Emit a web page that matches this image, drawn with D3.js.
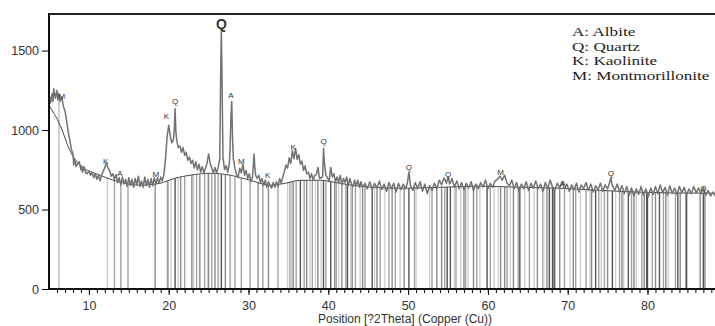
<!DOCTYPE html>
<html>
<head>
<meta charset="utf-8">
<title>XRD pattern</title>
<script src="https://d3js.org/d3.v7.min.js"></script>
<style>
  body { margin: 0; background: #fff; }
  svg { display: block; font-family: "Liberation Sans", Arial, sans-serif; }
  .tick text { fill: #333; }
</style>
</head>
<body>
<div id="chart"></div>
<script>
// measured profile: [2theta, counts]
const profile = [
  [5.0,1150],[5.1,1210],[5.2,1170],[5.4,1230],[5.5,1180],[5.6,1260],[5.8,1200],[6.0,1250],[6.1,1190],[6.2,1230],[6.4,1180],[6.6,1210],[6.8,1150],
  [7.0,1120],[7.2,1060],[7.4,990],[7.6,940],[7.8,880],[8.0,850],[8.1,780],[8.2,820],[8.4,770],[8.6,790],[8.8,800],
  [9.0,750],[9.1,775],[9.2,735],[9.4,770],[9.6,730],[9.8,725],[10.0,745],[10.2,715],[10.4,735],[10.6,700],[10.8,725],
  [11.0,690],[11.2,715],[11.4,680],[11.6,720],[11.8,740],[12.0,765],[12.2,795],[12.4,760],[12.6,745],[12.8,710],
  [13.0,725],[13.2,690],[13.4,720],[13.6,670],[13.8,700],[14.0,655],[14.2,705],[14.4,660],[14.6,690],[14.8,645],
  [15.0,700],[15.2,650],[15.4,690],[15.6,640],[15.8,695],[16.0,655],[16.2,710],[16.4,645],[16.6,680],[16.8,640],
  [17.0,705],[17.2,650],[17.4,690],[17.6,640],[17.8,695],[18.0,650],[18.2,700],[18.4,660],[18.6,700],[18.8,665],
  [19.0,705],[19.2,680],[19.4,720],[19.6,820],[19.8,960],[20.0,1030],[20.2,960],[20.4,920],[20.6,940],[20.7,1000],
  [20.8,1135],[20.9,990],[21.0,940],[21.2,890],[21.4,900],[21.6,860],[21.8,890],[22.0,840],[22.2,860],[22.4,810],
  [22.6,830],[22.8,790],[23.0,810],[23.2,760],[23.4,800],[23.6,750],[23.8,785],[24.0,735],[24.2,770],[24.4,730],
  [24.6,760],[24.8,790],[25.0,850],[25.2,790],[25.4,760],[25.6,730],[25.8,765],[26.0,730],[26.2,765],[26.4,820],
  [26.5,1300],[26.6,1640],[26.7,1250],[26.8,830],[27.0,750],[27.2,775],[27.4,735],[27.6,790],[27.7,900],[27.8,1080],
  [27.9,1180],[28.0,950],[28.1,820],[28.3,760],[28.5,720],[28.7,700],[28.9,760],[29.1,730],[29.3,785],[29.5,715],
  [29.7,745],[29.9,695],[30.1,725],[30.3,675],[30.5,705],[30.6,780],[30.7,850],[30.8,760],[30.9,715],[31.1,695],
  [31.3,715],[31.5,670],[31.7,695],[31.9,650],[32.1,685],[32.3,640],[32.5,675],[32.7,650],[32.9,635],[33.1,670],
  [33.3,640],[33.5,675],[33.7,645],[33.9,695],[34.1,665],[34.3,705],[34.5,740],[34.7,780],[34.9,760],[35.1,825],
  [35.3,790],[35.5,870],[35.7,820],[35.9,885],[36.1,815],[36.3,845],[36.5,785],[36.7,805],[36.9,745],[37.1,775],
  [37.3,725],[37.5,735],[37.7,695],[37.9,725],[38.1,685],[38.3,715],[38.5,720],[38.7,765],[38.9,695],[39.1,700],
  [39.3,710],[39.4,885],[39.5,800],[39.7,715],[39.9,700],[40.1,675],[40.3,765],[40.5,705],[40.7,725],[40.9,675],
  [41.1,705],[41.3,670],[41.5,715],[41.7,655],[41.9,695],[42.1,670],[42.3,705],[42.5,650],[42.7,695],[42.9,660],
  [43.1,645],[43.3,685],[43.5,650],[43.7,685],[43.9,640],[44.1,675],[44.3,640],
  [44.6,665],[44.9,630],[45.2,675],[45.5,625],[45.8,665],[46.1,635],[46.4,680],[46.7,625],[47.0,660],[47.3,615],
  [47.6,670],[47.9,630],[48.2,665],[48.5,610],[48.8,665],[49.1,625],[49.4,660],[49.7,630],[49.9,665],[50.1,735],
  [50.3,650],[50.6,620],[50.9,670],[51.2,630],[51.5,675],[51.8,615],[52.1,660],[52.4,600],[52.7,650],[53.0,620],
  [53.3,665],[53.6,630],[53.9,685],[54.2,655],[54.5,700],[54.8,665],[55.0,705],[55.2,660],[55.5,695],[55.8,640],
  [56.1,680],[56.4,630],[56.7,670],[57.0,625],[57.3,665],[57.6,635],[57.9,675],[58.2,620],[58.5,660],[58.8,630],
  [59.1,670],[59.4,640],[59.7,685],[60.0,630],[60.3,665],[60.6,640],[60.9,680],[61.2,690],[61.5,710],[61.8,685],
  [62.1,715],[62.4,665],[62.7,650],[63.0,685],[63.3,630],[63.6,670],[63.9,615],[64.2,660],[64.5,630],[64.8,675],
  [65.1,620],[65.4,665],[65.7,635],[66.0,680],[66.3,630],[66.6,660],[66.9,615],[67.2,670],[67.5,630],[67.8,685],
  [68.1,640],[68.4,625],[68.7,665],[69.0,635],[69.3,675],[69.6,630],[69.9,660],[70.2,615],[70.5,655],[70.8,625],
  [71.1,665],[71.4,610],[71.7,655],[72.0,630],[72.3,670],[72.6,620],[72.9,660],[73.2,610],[73.5,650],[73.8,625],
  [74.1,665],[74.4,615],[74.7,655],[75.0,630],[75.2,660],[75.4,700],[75.6,650],[75.9,620],[76.2,660],[76.5,610],
  [76.8,650],[77.1,600],[77.4,645],[77.7,590],[78.0,635],[78.3,585],[78.6,630],[78.9,595],[79.2,645],[79.5,590],
  [79.8,630],[80.1,580],[80.4,635],[80.7,595],[81.0,645],[81.3,600],[81.6,655],[81.9,605],[82.2,640],[82.5,590],
  [82.8,650],[83.1,600],[83.4,635],[83.7,595],[84.0,645],[84.3,605],[84.6,640],[84.9,590],[85.2,630],[85.5,600],
  [85.8,645],[86.1,605],[86.4,635],[86.7,600],[87.0,640],[87.3,590],[87.6,620],[87.9,585],[88.2,610],[88.5,585]
];

// fitted background
const bgTheta  = [5.0, 6.4, 7.6, 8.9, 11.4, 13.9, 16.4, 18.9, 20.8, 22.7, 25.2, 27.7, 30.2, 32.7, 34.6, 36.5, 39.0, 41.5, 44.0, 49.0, 54.0, 59.0, 64.0, 69.0, 74.0, 79.1, 86.6, 88.5];
const bgCounts = [1155, 1030, 873, 778, 716, 672, 653, 665, 697, 716, 728, 716, 684, 653, 665, 684, 684, 665, 647, 634, 640, 647, 640, 634, 621, 609, 603, 603];

// reference stick positions per phase
const albiteSticks = [13.2, 14.0, 14.9, 22.0, 23.5, 24.5, 25.4, 26.2, 27.7, 28.3, 29.1, 30.2, 31.8, 33.7, 35.2, 36.0, 37.0, 38.0, 39.7, 41.0, 42.2, 43.4, 44.6, 46.5, 47.6, 48.4, 50.8, 53.0, 54.6, 56.0, 57.2, 58.6, 60.3, 62.4, 63.8, 65.2, 66.9, 68.4, 69.6, 71.0, 72.3, 73.9, 74.6, 76.5, 78.0, 79.3, 80.6, 82.0, 83.5, 84.8];
const quartzSticks = [20.8, 26.6, 36.5, 39.4, 40.3, 42.4, 45.5, 50.1, 54.9, 55.3, 59.9, 64.0, 67.7, 68.1, 68.3, 73.5, 75.6, 77.6, 79.9, 80.0, 81.5, 83.8, 84.9, 87.0];
const kaoliniteSticks = [12.3, 19.8, 20.3, 21.2, 23.1, 24.9, 34.9, 35.4, 35.9, 36.9, 37.7, 38.4, 39.1, 41.3, 42.8, 44.0, 45.8, 47.1, 49.0, 51.0, 52.7, 55.8, 56.6, 57.5, 59.0, 60.8, 61.3, 62.8, 64.6, 65.8, 67.0, 70.3, 71.6, 72.8, 74.2, 76.0, 77.0, 78.6, 82.6];
const montSticks = [6.25, 18.3, 19.9, 21.5, 22.9, 23.9, 25.0, 25.8, 27.1, 31.2, 32.5, 35.6, 37.3, 38.7, 40.8, 41.7, 43.0, 44.3, 46.1, 48.0, 49.5, 53.6, 54.2, 57.0, 58.2, 61.6, 62.1, 63.2, 66.2, 67.4, 69.0, 70.7, 73.0, 75.0, 76.8, 78.3, 79.6, 81.0, 82.3, 84.1, 86.6, 87.2];

// peak identification marks
const markText   = ["M", "K", "A", "M", "K", "Q", "Q", "A", "M", "K", "K", "Q", "Q", "Q", "M", "A", "Q", "Q"];
const markTheta  = [6.6, 12.1, 13.9, 18.4, 19.7, 20.8, 26.6, 27.8, 29.1, 32.4, 35.6, 39.4, 50.1, 55.0, 61.6, 69.4, 75.4, 87.0];
const markCounts = [1210, 800, 725, 718, 1085, 1180, 1670, 1220, 800, 715, 890, 930, 765, 722, 735, 665, 728, 634];

const phases = ["Albite", "Quartz", "Kaolinite", "Montmorillonite"];
const phaseKeys = ["A", "Q", "K", "M"];
const yTicks = [0, 500, 1000, 1500];
const xTicks = [10, 20, 30, 40, 50, 60, 70, 80];
const xTitle = "Position [?2Theta] (Copper (Cu))";

const width = 715, height = 326;
const plotLeft = 49, plotTop = 14, plotBottom = 289;

const svg = d3.select("#chart").append("svg")
  .attr("width", width)
  .attr("height", height);

const x = d3.scaleLinear().domain([5, 88.46]).range([plotLeft, width]);
const y = d3.scaleLinear().domain([0, 1730]).range([plotBottom, plotTop]);

svg.append("clipPath").attr("id", "plot")
  .append("rect")
  .attr("x", plotLeft).attr("y", plotTop)
  .attr("width", width - plotLeft).attr("height", plotBottom - plotTop);

const bgAt = t => {
  const i = d3.bisectRight(bgTheta, t);
  if (i <= 0) return bgCounts[0];
  if (i >= bgTheta.length) return bgCounts[bgCounts.length - 1];
  const f = (t - bgTheta[i - 1]) / (bgTheta[i] - bgTheta[i - 1]);
  return bgCounts[i - 1] + f * (bgCounts[i] - bgCounts[i - 1]);
};

// sticks
const sticks = [
  ...albiteSticks.map(t => ({ t, phase: "Albite" })),
  ...quartzSticks.map(t => ({ t, phase: "Quartz" })),
  ...kaoliniteSticks.map(t => ({ t, phase: "Kaolinite" })),
  ...montSticks.map(t => ({ t, phase: "Montmorillonite" }))
];
const shade = d3.scaleOrdinal().domain(phases).range(["#a3a3a3", "#555555", "#cfcfcf", "#8c8c8c"]);

const plot = svg.append("g").attr("clip-path", "url(#plot)");

plot.append("g")
  .selectAll("line")
  .data(sticks)
  .enter().append("line")
  .attr("x1", d => x(d.t)).attr("x2", d => x(d.t))
  .attr("y1", y(0))
  .attr("y2", d => y(d.t < 7 ? 1220 : bgAt(d.t)))
  .attr("stroke", d => d.t < 7 ? "#bdbdbd" : shade(d.phase))
  .attr("stroke-width", 1.4);

// background curve
plot.append("path")
  .datum(bgTheta.map((t, i) => [t, bgCounts[i]]))
  .attr("fill", "none")
  .attr("stroke", "#4a4a4a")
  .attr("stroke-width", 1)
  .attr("d", d3.line().x(d => x(d[0])).y(d => y(d[1])).curve(d3.curveMonotoneX));

// measured pattern
plot.append("path")
  .datum(profile)
  .attr("fill", "none")
  .attr("stroke", "#727272")
  .attr("stroke-width", 1.5)
  .attr("stroke-linejoin", "round")
  .attr("d", d3.line().x(d => x(d[0])).y(d => y(d[1])));

// peak marks
const maxMark = d3.maxIndex(markCounts);
svg.append("g")
  .selectAll("text")
  .data(markText)
  .enter().append("text")
  .attr("x", (d, i) => x(markTheta[i]))
  .attr("y", (d, i) => y(markCounts[i]))
  .attr("text-anchor", "middle")
  .attr("dominant-baseline", "central")
  .attr("font-size", (d, i) => i === maxMark ? 14 : 8)
  .attr("font-weight", (d, i) => i === maxMark ? "bold" : "normal")
  .attr("fill", "#333")
  .text(d => d);

// axes
const yAxis = svg.append("g")
  .attr("transform", `translate(${plotLeft},0)`)
  .call(d3.axisLeft(y).tickValues(yTicks).tickSize(7).tickPadding(3).tickFormat(d3.format("d")));
yAxis.select(".domain").remove();
yAxis.selectAll("text").attr("font-size", 12.5);

const xMinor = svg.append("g")
  .attr("transform", `translate(0,${plotBottom})`)
  .call(d3.axisBottom(x).tickValues(d3.range(6, 89)).tickSize(4).tickFormat(""));
xMinor.select(".domain").remove();

const xAxis = svg.append("g")
  .attr("transform", `translate(0,${plotBottom})`)
  .call(d3.axisBottom(x).tickValues(xTicks).tickSize(6).tickPadding(6));
xAxis.select(".domain").remove();
xAxis.selectAll("text").attr("font-size", 12.5);

svg.append("line")
  .attr("x1", plotLeft).attr("x2", plotLeft).attr("y1", plotTop - 1).attr("y2", plotBottom + 1)
  .attr("stroke", "#111").attr("stroke-width", 2);
svg.append("line")
  .attr("x1", plotLeft).attr("x2", width).attr("y1", plotBottom).attr("y2", plotBottom)
  .attr("stroke", "#111").attr("stroke-width", 2);
svg.append("line")
  .attr("x1", plotLeft).attr("x2", width).attr("y1", plotTop).attr("y2", plotTop)
  .attr("stroke", "#222").attr("stroke-width", 2);

svg.append("text")
  .attr("x", 405).attr("y", 323)
  .attr("text-anchor", "middle")
  .attr("font-size", 12)
  .attr("fill", "#333")
  .text(xTitle);

// legend
svg.append("g")
  .selectAll("text")
  .data(phases)
  .enter().append("text")
  .attr("transform", (d, i) => `translate(572,${36 + i * 14.7}) scale(1.37,1)`)
  .attr("font-family", "'Liberation Serif', 'Times New Roman', serif")
  .attr("font-size", 12.5)
  .attr("fill", "#222")
  .text((d, i) => `${phaseKeys[i]}: ${d}`);
</script>
</body>
</html>
